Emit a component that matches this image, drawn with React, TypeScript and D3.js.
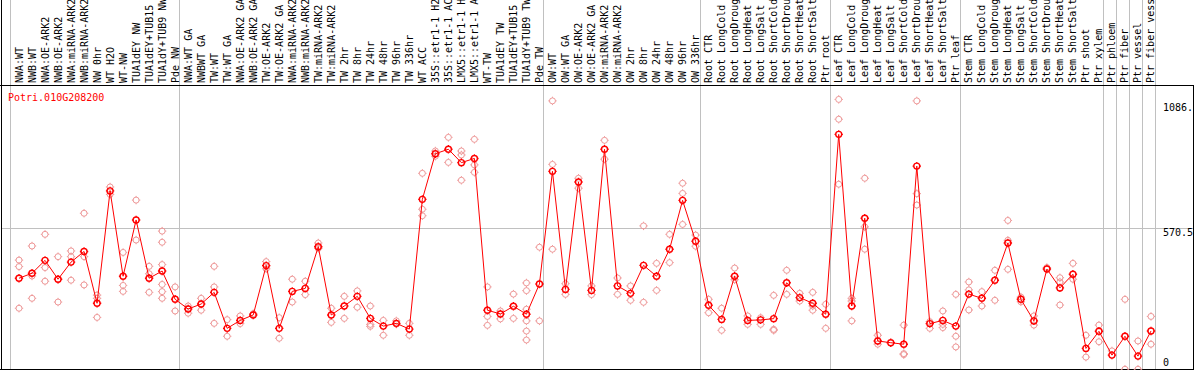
import React, { useEffect, useRef } from 'react';
import * as d3 from 'd3';

const geneName = 'Potri.010G208200';

const sampleLabels = [
  'NWA:WT', 'NWB:WT', 'NWA:OE-ARK2', 'NWB:OE-ARK2', 'NWA:miRNA-ARK2', 'NWB:miRNA-ARK2', 'NW 0hr', 'WT H2O', 'WT-NW',
  'TUA1dEY NW', 'TUA1dEY+TUB15', 'TUA1dY+TUB9 NW', 'Pde NW',
  'NWA:WT GA', 'NWBWT GA', 'TW:WT', 'TW:WT GA', 'NWA:OE-ARK2 GA', 'NWB:OE-ARK2 GA', 'TW:OE-ARK2', 'TW:OE-ARK2 GA',
  'NWA:miRNA-ARK2', 'NWB:miRNA-ARK2', 'TW:miRNA-ARK2', 'TW:miRNA-ARK2', 'TW 2hr', 'TW 8hr', 'TW 24hr', 'TW 48hr',
  'TW 96hr', 'TW 336hr', 'WT ACC', '35S::etr1-1 H2', '35S::etr1-1 AC', 'LMX5::etr1-1 H', 'LMX5::etr1-1 A', 'WT-TW',
  'TUA1dEY TW', 'TUA1dEY+TUB15', 'TUA1dY+TUB9 TW', 'Pde TW',
  'OW:WT', 'OW:WT GA', 'OW:OE-ARK2', 'OW:OE-ARK2 GA', 'OW:miRNA-ARK2', 'OW:miRNA-ARK2', 'OW 2hr', 'OW 8hr',
  'OW 24hr', 'OW 48hr', 'OW 96hr', 'OW 336hr',
  'Root CTR', 'Root LongCold', 'Root LongDroug', 'Root LongHeat', 'Root LongSalt', 'Root ShortCold', 'Root ShortDrou',
  'Root ShortHeat', 'Root ShortSalt', 'Ptr root',
  'Leaf CTR', 'Leaf LongCold', 'Leaf LongDroug', 'Leaf LongHeat', 'Leaf LongSalt', 'Leaf ShortCold', 'Leaf ShortDrou',
  'Leaf ShortHeat', 'Leaf ShortSalt', 'Ptr leaf',
  'Stem CTR', 'Stem LongCold', 'Stem LongDroug', 'Stem LongHeat', 'Stem LongSalt', 'Stem ShortCold', 'Stem ShortDrou',
  'Stem ShortHeat', 'Stem ShortSalt', 'Ptr shoot', 'Ptr xylem',
  'Ptr phloem', 'Ptr fiber', 'Ptr vessel', 'Ptr fiber vess',
];

// index where each group starts (gray separators), last one = end
const groupStarts = [0, 13, 41, 53, 63, 73, 84, 85, 86, 87, 88];

const meanValues = [
  370, 390, 442, 366, 435, 478, 269, 722, 378, 605, 370, 399, 285,
  246, 266, 313, 168, 200, 222, 421, 168, 317, 329, 497, 222, 258, 297, 208, 177, 188, 165, 688, 872, 890, 836, 853,
  241, 226, 257, 225, 347,
  801, 325, 758, 321, 890, 339, 309, 422, 378, 487, 684, 519,
  261, 204, 378, 200, 202, 207, 352, 292, 269, 225,
  950, 258, 612, 117, 110, 104, 822, 187, 200, 177,
  306, 289, 362, 512, 285, 198, 407, 331, 386, 87, 156,
  60, 136, 56, 157,
];

const replicateValues = [
  [443, 417, 249], [500, 379, 289], [547, 413, 358], [457, 366, 274], [480, 457, 362], [632, 457, 343],
  [302, 289, 212], [738, 708], [474, 341, 317], [685, 524], [418, 388, 313], [560, 515, 425, 345, 316, 289],
  [335, 238],
  [258, 229], [289, 241], [418, 335, 188], [203, 136], [218, 187], [227], [437, 408], [211, 128], [366, 274],
  [358, 304], [512, 490], [249, 192], [297, 208], [319, 253], [258, 184, 176], [200, 140], [198, 185], [188, 140],
  [793, 648, 622], [883, 862], [938, 837], [883, 867, 765], [930, 827, 797], [335, 216, 180], [238, 206],
  [306, 208], [351, 320, 245, 198, 157, 121], [495, 198],
  [1085, 829, 487], [348, 305], [773, 733], [339, 304], [926, 850], [371, 305], [339, 281], [581, 273],
  [430, 321], [547, 433], [753, 712, 587], [544, 499],
  [285, 231], [249, 160], [411, 364], [218, 184], [211, 184], [301, 164, 160], [402, 305], [309, 278],
  [313, 258, 241], [265, 168],
  [1091, 1011, 749], [289, 278, 198], [773, 577, 487], [140, 104], [], [181, 66, 62], [1085, 711, 665],
  [195, 168], [238, 184, 171], [305, 136, 93],
  [355, 323, 242], [316, 258], [402, 281], [603, 523, 406], [294, 275], [218, 181], [413], [372, 355, 262],
  [430, 366], [140, 52], [181, 114],
  [77], [285, 3], [117, 3], [216, 104],
];

const yMax = 1141;
const yTickLabels = ['1086.', '570.5', '0'];
const yTickValues = [1086, 570.5, 0];

const W = 1194;
const H = 370;

// circle with little ticks, like the original bitmap marker
const marker = 'M-3,0a3,3 0 1,0 6,0a3,3 0 1,0 -6,0M0,-3v-1.2M0,3v1.2M-3,0h-1.2M3,0h1.2';

const App = () => {
  const svgRef = useRef<SVGSVGElement>(null);

  useEffect(() => {
    document.body.style.margin = '0';
    const svg = d3.select(svgRef.current);
    svg.selectAll('*').remove();

    const x = d3.scaleBand<number>()
      .domain(d3.range(sampleLabels.length))
      .range([10.5, 1155.5])
      .paddingInner(0)
      .paddingOuter(0);
    const px = (i: number) => (x(i) as number) + 8.5;
    const y = d3.scaleLinear().domain([0, yMax]).range([370, 87]);

    const font = 'DejaVu Sans Mono, monospace';

    // gray separators
    svg.append('g')
      .selectAll('line')
      .data(groupStarts)
      .enter()
      .append('line')
      .attr('x1', d => Math.floor(d === sampleLabels.length ? 1155.5 : (x(d) as number)) + 0.5)
      .attr('x2', d => Math.floor(d === sampleLabels.length ? 1155.5 : (x(d) as number)) + 0.5)
      .attr('y1', 0)
      .attr('y2', 369)
      .attr('stroke', '#c0c0c0')
      .attr('stroke-width', 1);

    // mid gridline
    svg.append('line')
      .attr('x1', 2).attr('x2', W)
      .attr('y1', Math.floor(y(570.5)) + 0.5).attr('y2', Math.floor(y(570.5)) + 0.5)
      .attr('stroke', '#c0c0c0');

    // frame
    svg.append('line').attr('x1', 1.5).attr('x2', 1.5).attr('y1', 0).attr('y2', 370).attr('stroke', '#000');
    svg.append('line').attr('x1', 0).attr('x2', W).attr('y1', 85.5).attr('y2', 85.5).attr('stroke', '#000');
    svg.append('line').attr('x1', 0).attr('x2', W).attr('y1', 369.5).attr('y2', 369.5).attr('stroke', '#000');
    svg.append('line').attr('x1', 1193.5).attr('x2', 1193.5).attr('y1', 85).attr('y2', 370).attr('stroke', '#000');

    // sample labels
    svg.append('g')
      .selectAll('text')
      .data(sampleLabels)
      .enter()
      .append('text')
      .attr('transform', (d, i) => `translate(${px(i) + 3.5},83) rotate(-90)`)
      .attr('font-family', font)
      .attr('font-size', 10)
      .attr('fill', '#000')
      .text(d => d);

    // y labels
    svg.append('g')
      .selectAll('text')
      .data(yTickValues)
      .enter()
      .append('text')
      .attr('x', 1163)
      .attr('y', (d, i) => (i === 0 ? y(d) + 10 : i === 1 ? y(d) + 7.5 : y(d) - 4))
      .attr('font-family', font)
      .attr('font-size', 10)
      .attr('fill', '#000')
      .text((d, i) => yTickLabels[i]);

    // gene name
    svg.append('text')
      .attr('x', 8)
      .attr('y', 101)
      .attr('font-family', font)
      .attr('font-size', 10)
      .attr('fill', '#ff0000')
      .text(geneName);

    // replicates
    const reps = replicateValues.flatMap((vals, i) => vals.map(v => ({ i, v })));
    svg.append('g')
      .selectAll('path')
      .data(reps)
      .enter()
      .append('path')
      .attr('transform', d => `translate(${px(d.i)},${y(d.v)})`)
      .attr('d', marker)
      .attr('fill', 'none')
      .attr('stroke', '#ee9999')
      .attr('stroke-width', 1);

    // mean line
    const line = d3.line<number>()
      .x((d, i) => px(i))
      .y(d => y(d));
    svg.append('path')
      .datum(meanValues)
      .attr('d', line)
      .attr('fill', 'none')
      .attr('stroke', '#ff0000')
      .attr('stroke-width', 1);

    svg.append('g')
      .selectAll('path')
      .data(meanValues)
      .enter()
      .append('path')
      .attr('transform', (d, i) => `translate(${px(i)},${y(d)})`)
      .attr('d', marker)
      .attr('fill', 'none')
      .attr('stroke', '#ff0000')
      .attr('stroke-width', 1.4);
  }, []);

  return (
    <svg ref={svgRef} width={W} height={H} style={{ display: 'block', background: '#fff' }}></svg>
  );
};

export default App;
